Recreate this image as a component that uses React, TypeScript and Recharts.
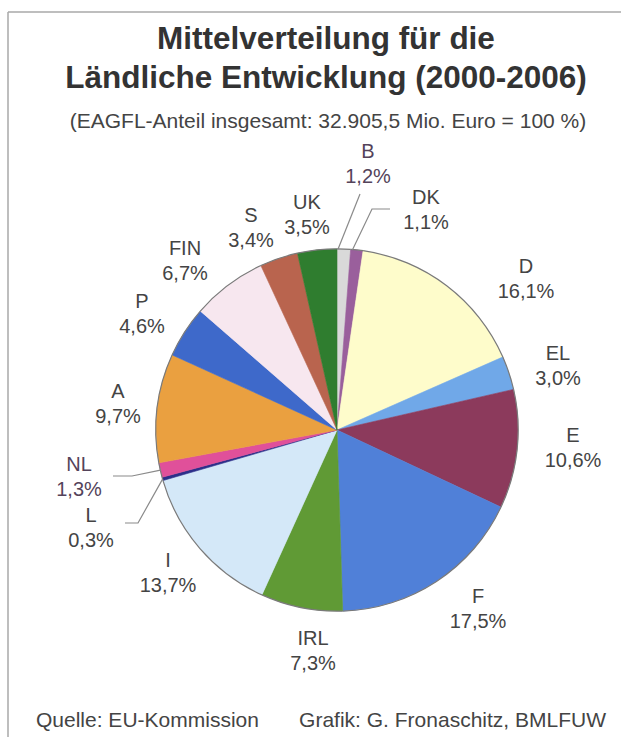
import React from "react";
import { PieChart, Pie, Cell } from "recharts";

// EAGFL share by member state, clockwise from 12 o'clock
const countries = ["B", "DK", "D", "EL", "E", "F", "IRL", "I", "L", "NL", "A", "P", "FIN", "S", "UK"];
const shares = [1.2, 1.1, 16.1, 3.0, 10.6, 17.5, 7.3, 13.7, 0.3, 1.3, 9.7, 4.6, 6.7, 3.4, 3.5];
const colors = [
  "#d9d9d9", "#9a5f9c", "#fefccb", "#70a8e8", "#8c3a5c", "#5080d8", "#609a35",
  "#d4e8f8", "#2c2f8a", "#e0509a", "#eaa040", "#3e69ca", "#f7e7ef", "#b9644e", "#2f7d2f",
];

const pieData = countries.map((name, i) => ({ name, value: shares[i] }));

// label anchor (first line baseline) relative to pie centre
const labelOffset: [number, number][] = [
  [31, -272], [89, -226], [189, -157], [221, -70], [236, 12], [141, 173], [-24, 215],
  [-169, 137], [-246, 92], [-258, 41], [-219, -32], [-195, -122], [-152, -175], [-86, -208], [-30, -221],
];

// leader lines: where on the slice they start (0 = start edge, 1 = end edge),
// then bend/end points relative to pie centre
const leaders: Record<number, { at: number; pts: [number, number][] }> = {
  0: { at: 0.08, pts: [[23, -236]] },
  1: { at: 0.15, pts: [[35, -221], [53, -221]] },
  8: { at: 0.5, pts: [[-199, 93], [-212, 93]] },
  9: { at: 0.5, pts: [[-205, 46], [-224, 46]] },
};

const W = 621;
const H = 737;
const CX = 337;
const CY = 430;
const R = 181;
const RAD = Math.PI / 180;
const FONT = "'Liberation Sans', Arial, sans-serif";

const fmt = (v: number) => v.toFixed(1).replace(".", ",") + "%";

const renderLabel = (props: any) => {
  const { cx, cy, midAngle, startAngle, endAngle, outerRadius, index } = props;
  const [dx, dy] = labelOffset[index];
  const x = cx + dx;
  const y = cy + dy;
  const tint = index === 0 || index === 9 ? "#54435a" : "#444";
  const leader = leaders[index];
  let pts = "";
  if (leader) {
    const a =
      typeof startAngle === "number" && typeof endAngle === "number"
        ? startAngle + leader.at * (endAngle - startAngle)
        : midAngle;
    const sx = cx + outerRadius * Math.cos(-a * RAD);
    const sy = cy + outerRadius * Math.sin(-a * RAD);
    pts = [`${sx},${sy}`, ...leader.pts.map(([px, py]) => `${cx + px},${cy + py}`)].join(" ");
  }
  return (
    <g key={`lbl-${index}`}>
      {leader && <polyline points={pts} fill="none" stroke="#8a8a8a" strokeWidth={1.2} />}
      <text x={x} y={y} textAnchor="middle" fill={tint} fontSize={20} fontFamily={FONT}>
        {countries[index]}
      </text>
      <text x={x} y={y + 25} textAnchor="middle" fill={tint} fontSize={20} fontFamily={FONT}>
        {fmt(shares[index])}
      </text>
    </g>
  );
};

export default function App() {
  return (
    <div style={{ position: "absolute", left: 0, top: 0, width: W, height: H, background: "#fff" }}>
      <div style={{ position: "absolute", left: 0, top: 0 }}>
        <PieChart width={W} height={H} margin={{ top: 0, right: 0, bottom: 0, left: 0 }}>
          <Pie
            data={pieData}
            dataKey="value"
            nameKey="name"
            cx={CX}
            cy={CY}
            outerRadius={R}
            startAngle={90}
            endAngle={-270}
            label={renderLabel}
            labelLine={false}
            isAnimationActive={false}
          >
            {pieData.map((d, i) => (
              <Cell key={d.name} fill={colors[i]} stroke={colors[i]} strokeWidth={0.6} />
            ))}
          </Pie>
          {/* thin outline round the pie */}
          <Pie
            data={pieData}
            dataKey="value"
            cx={CX}
            cy={CY}
            innerRadius={R - 0.4}
            outerRadius={R + 0.8}
            startAngle={90}
            endAngle={-270}
            fill="#7a7a7a"
            stroke="none"
            isAnimationActive={false}
          />
        </PieChart>
      </div>
      <svg width={W} height={H} style={{ position: "absolute", left: 0, top: 0, pointerEvents: "none" }}>
        <line x1={8} y1={12} x2={W} y2={12} stroke="#a8a8a8" strokeWidth={1.5} />
        <line x1={8} y1={12} x2={8} y2={H} stroke="#a8a8a8" strokeWidth={1.5} />
        <text x={326} y={49} textAnchor="middle" fontSize={31.5} fontWeight="bold" fill="#333" fontFamily={FONT}>
          Mittelverteilung für die
        </text>
        <text x={326} y={88} textAnchor="middle" fontSize={31.5} fontWeight="bold" fill="#333" fontFamily={FONT}>
          Ländliche Entwicklung (2000-2006)
        </text>
        <text x={328} y={128} textAnchor="middle" fontSize={21} fill="#444" fontFamily={FONT}>
          (EAGFL-Anteil insgesamt: 32.905,5 Mio. Euro = 100 %)
        </text>
        <text x={36} y={727} fontSize={21} fill="#444" fontFamily={FONT}>
          Quelle: EU-Kommission
        </text>
        <text x={606} y={727} textAnchor="end" fontSize={21} fill="#444" fontFamily={FONT}>
          Grafik: G. Fronaschitz, BMLFUW
        </text>
      </svg>
    </div>
  );
}
